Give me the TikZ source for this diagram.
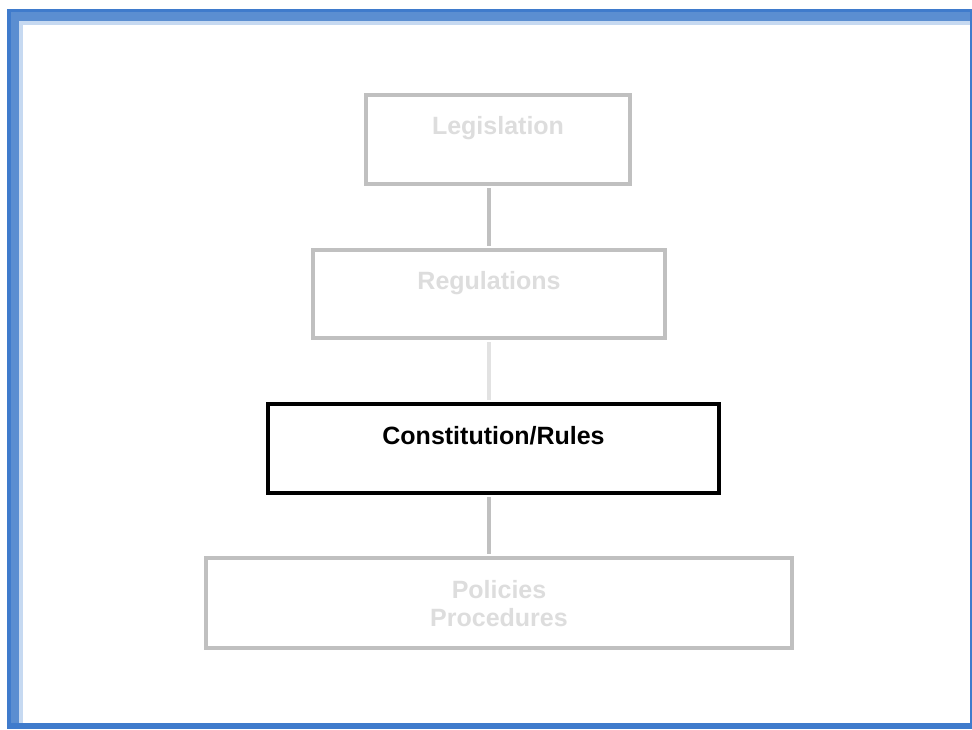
\documentclass[tikz,border=0pt]{standalone}
\usepackage{fontspec}
\setmainfont{Liberation Sans}
\definecolor{framedark}{HTML}{3F7BCC}
\definecolor{framemid}{HTML}{5B8ED1}
\definecolor{framelight}{HTML}{C6D9F1}
\definecolor{boxgray}{HTML}{C0C0C0}
\definecolor{textgray}{HTML}{DDDDDD}
\definecolor{linklight}{HTML}{E2E2E2}

\begin{document}
\begin{tikzpicture}[x=1pt,y=-1pt,
    level/.style={rectangle,draw=boxgray,line width=4pt,inner sep=0pt,text=textgray,
        font=\fontsize{25}{28}\selectfont\bfseries,align=center},
    current/.style={level,draw=black,text=black},
    link/.style={draw=boxgray,line width=4pt,shorten <=2pt,shorten >=2pt}]
    % page and frame
    \fill[white] (0,0) rectangle (972,729);
    \useasboundingbox (0,0) rectangle (972,729);
    \fill[framedark] (7,9) rectangle (972,729);
    \fill[framemid] (11,12) rectangle (970,723);
    \fill[framelight] (19,21) rectangle (970,723);
    \fill[white] (23,25) rectangle (970,723);
    % levels
    \node[level,minimum width=264pt,text height=39pt,text depth=50pt] (leg) at (498,139.5) {Legislation};
    \node[level,minimum width=352pt,text height=39pt,text depth=49pt] (reg) at (489,294) {Regulations};
    \node[current,minimum width=451pt,text height=40pt,text depth=49pt] (con) at (493.5,448.5) {Constitution/Rules};
    \node[level,minimum width=586pt,text height=68pt,text depth=22pt] (pol) at (499,603) {Policies\\Procedures};
    \path
    (leg.south -| reg) edge[link] (reg.north)
    (reg.south) edge[link,draw=linklight] (reg.south |- con.north)
    (con.south -| reg) edge[link] (pol.north -| reg);
\end{tikzpicture}
\end{document}
